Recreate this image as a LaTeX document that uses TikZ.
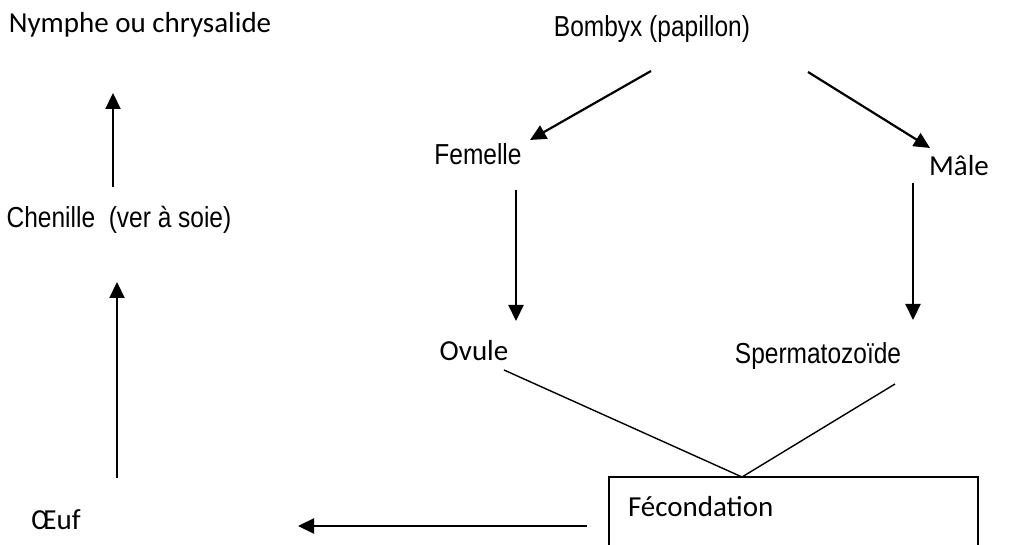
\documentclass[tikz,border=0pt]{standalone}
\usepackage{fontspec}
\usepackage{graphicx}
\setmainfont{Carlito}
\newfontfamily\arialfont{Liberation Sans}
\usetikzlibrary{arrows.meta}
\newcommand{\etire}[1]{\scalebox{1}[1.18]{#1}}

\tikzset{
  cal/.style={inner sep=0pt, font=\fontsize{29}{34}\selectfont},
  ari/.style={inner sep=0pt, font=\arialfont\fontsize{24.5}{28}\selectfont},
  arr/.style={line width=2.2pt, -{Triangle[length=16pt,width=15pt]}},
  link/.style={line width=1.4pt},
  boite/.style={draw, line width=1.6pt, outer sep=0pt, inner xsep=19pt, inner ysep=10pt,
    text width=331pt, align=left, text height=30pt, text depth=60pt,
    font=\fontsize{29}{34}\selectfont}
}

\begin{document}
\begin{tikzpicture}[x=1pt,y=1pt]
  \useasboundingbox (0,0) rectangle (1014,545);

  % cycle de vie
  \node[cal] (nymphe) at (140,520) {Nymphe ou chrysalide};
  \node[ari] (chenille) at (119,325) {\etire{Chenille~~(ver à soie)}};
  \node[cal] (oeuf) at (56,25) {Œuf};

  % reproduction
  \node[ari] (bombyx) at (652,516) {\etire{Bombyx (papillon)}};
  \node[ari] (femelle) at (478,391) {\etire{Femelle}};
  \node[cal] (male) at (959,379) {Mâle};
  \node[cal] (ovule) at (474,194) {Ovule};
  \node[ari] (sperma) at (818,189) {\etire{Spermatozoïde}};
  \node[boite, anchor=north west] (fec) at (609,68) {Fécondation};
  \coordinate (join) at ([xshift=133pt]fec.north west);

  \draw[arr] ([shift={(-1,-42)}]bombyx.center) -- ([shift={(52,14)}]femelle.center);
  \draw[arr] ([shift={(156,-43)}]bombyx.center) -- ([shift={(-29,18)}]male.center);
  \draw[arr] ([shift={(38,-36)}]femelle.center) -- ([shift={(42,30)}]ovule.center);
  \draw[arr] ([shift={(-46,-17)}]male.center) -- ([shift={(95,36)}]sperma.center);
  \draw[link] ([shift={(30,-19)}]ovule.center) -- (join);
  \draw[link] ([shift={(77,-28)}]sperma.center) -- (join);

  \draw[arr] ([shift={(-22,-49)}]fec.north west) -- ([shift={(242,-6)}]oeuf.center);
  \draw[arr] ([shift={(61,42)}]oeuf.center) -- ([shift={(-2,-62)}]chenille.center);
  \draw[arr] ([shift={(-6,33)}]chenille.center) -- ([shift={(-27,-68)}]nymphe.center);
\end{tikzpicture}
\end{document}
